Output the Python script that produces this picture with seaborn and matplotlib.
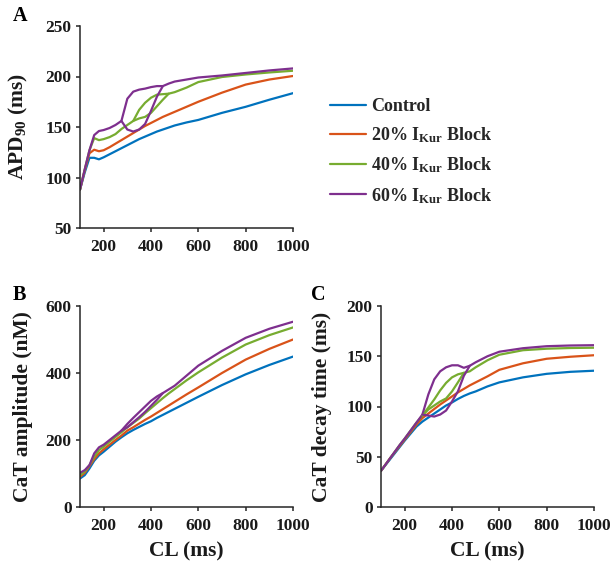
import matplotlib
matplotlib.use('Agg')
import matplotlib.pyplot as plt
import seaborn as sns

# ---------------- data ----------------
CL = [100, 120, 140, 160, 180, 200, 225, 250, 275, 300, 325, 350, 375, 400,
      425, 450, 475, 500, 550, 600, 700, 800, 900, 1000]
series_names = ["Control", "20% I$_{\\mathrm{Kur}}$ Block",
                "40% I$_{\\mathrm{Kur}}$ Block", "60% I$_{\\mathrm{Kur}}$ Block"]

# Panel A: APD90 (ms)
ctrl_A = [88, 105, 119.5, 119.5, 118, 120, 123, 126, 129, 132, 135, 138, 140.5, 143,
          145.5, 147.5, 149.5, 151.5, 154.5, 157, 164, 170, 177, 183.5]
b20_A = [88, 107, 124, 127.5, 126, 127, 130, 133.5, 137, 140.5, 144, 147.5, 151, 154,
         157, 160, 162.5, 165, 170, 175, 184, 192, 197, 200.5]
b40_A = [88, 108, 127, 139, 137, 138, 140, 143, 148, 152, 156, 167, 174, 179,
         182, 182.5, 183, 184.5, 189, 194.5, 199.5, 202, 204, 205.7]
b40_A_alt_cl = [325, 350, 375, 400, 425, 450, 475]
b40_A_alt = [156, 158.5, 160, 164, 170.5, 177, 183]
b60_A = [88, 108, 127, 142, 146, 147, 149, 152, 156, 178, 185, 187, 188, 189.5,
         190.5, 190.5, 193, 195, 197, 199, 201, 203.5, 206, 208]
b60_A_alt_cl = [275, 300, 325, 350, 375, 400, 425, 450]
b60_A_alt = [156, 147.5, 145.5, 147.5, 153, 166, 180, 190.5]

# Panel B: CaT amplitude (nM)
ctrl_B = [85, 95, 115, 138, 154, 165, 180, 195, 208, 220, 230, 239, 248, 256,
          266, 275, 284, 293, 311, 329, 364, 396, 424, 449]
b20_B = [90, 102, 122, 143, 160, 172, 186, 200, 213, 228, 238, 249, 260, 270,
         281, 292, 303, 314, 336, 357, 400, 440, 472, 500]
b40_B = [95, 106, 125, 150, 170, 180, 195, 209, 223, 238, 251, 264, 280, 295,
         310, 325, 339, 352, 378, 402, 446, 485, 513, 536]
b60_B = [102, 110, 125, 160, 178, 186, 200, 214, 228, 248, 266, 283, 300, 317,
         330, 340, 351, 362, 392, 422, 466, 505, 532, 553]
b60_B_alt_cl = [275, 300, 325, 350, 375, 400, 425, 450]
b60_B_alt = [228, 238, 253, 268, 284, 302, 320, 340]

# Panel C: CaT decay time (ms)
ctrl_C = [36, 42, 48, 54, 60, 66, 73, 80, 85, 89, 93, 97, 101, 104,
          107.5, 110.5, 113, 115, 120, 124, 129, 132.5, 134.5, 135.6]
b20_C = [36, 42.5, 49, 55, 61, 67, 74.5, 82, 88.5, 93, 97.5, 102, 106, 110,
         114, 117.5, 121, 124, 130, 136.5, 143, 147.5, 149.5, 151]
b40_C = [36, 42.5, 49, 55.5, 62, 68, 76, 84, 91, 99, 107, 116, 123.5, 129,
         132, 133.5, 135, 139, 146, 151.5, 156, 157.5, 158.2, 158.5]
b40_C_alt_cl = [275, 300, 325, 350, 375, 400, 425, 450]
b40_C_alt = [91, 97, 101, 105, 108, 115, 124, 133.5]
b60_C = [36, 42.5, 49, 55.5, 62, 68, 76, 84, 92, 112, 127, 135, 139, 141,
         141, 138.5, 140.5, 144, 150, 154.5, 158, 160, 160.7, 161]
b60_C_alt_cl = [275, 300, 325, 350, 375, 400, 425, 450, 475]
b60_C_alt = [92, 91, 90, 92, 96, 105, 115, 130.5, 140.5]

x_ticks = [200, 400, 600, 800, 1000]

# ---------------- style ----------------
sns.set_style('ticks')
plt.rcParams['font.family'] = ['Liberation Serif', 'DejaVu Serif']
plt.rcParams['font.weight'] = 'bold'
plt.rcParams['mathtext.fontset'] = 'custom'
plt.rcParams['mathtext.rm'] = 'Liberation Serif:bold'
plt.rcParams['mathtext.it'] = 'Liberation Serif:bold:italic'
plt.rcParams['mathtext.bf'] = 'Liberation Serif:bold'
plt.rcParams['mathtext.default'] = 'rm'

colors = ['#0072BD', '#D95319', '#77AC30', '#7E2F8E']
AX_COLOR = '#262626'
TXT = '#1a1a1a'
LW = 1.6

fig = plt.figure(figsize=(6.15, 5.69), dpi=100)
W, H = 615, 569


def add_ax(l, r, t, b):
    return fig.add_axes([l / W, 1 - b / H, (r - l) / W, (b - t) / H])


axA = add_ax(80, 293, 26, 228)
axB = add_ax(80, 293, 306, 507)
axC = add_ax(381, 594, 306, 507)


def draw(ax, mains, alts, ylim, yticks, ylabel, ylab_x, xlabel):
    for name, vals, c in zip(series_names, mains, colors):
        sns.lineplot(x=CL, y=vals, color=c, linewidth=LW, ax=ax, label=name,
                     sort=False, estimator=None)
    for idx, xs, ys in alts:
        sns.lineplot(x=xs, y=ys, color=colors[idx], linewidth=LW, ax=ax,
                     sort=False, estimator=None)
    ax.set_xlim(100, 1000)
    ax.set_ylim(*ylim)
    ax.set_xticks(x_ticks)
    ax.set_yticks(yticks)
    sns.despine(ax=ax)
    for s in ['left', 'bottom']:
        ax.spines[s].set_color(AX_COLOR)
        ax.spines[s].set_linewidth(1.1)
    ax.tick_params(axis='both', direction='out', length=3, width=1.1,
                   colors=AX_COLOR, labelsize=12.5, labelcolor=TXT)
    ax.tick_params(axis='x', pad=5)
    ax.tick_params(axis='y', pad=3)
    for lab in ax.get_xticklabels() + ax.get_yticklabels():
        lab.set_fontweight('bold')
    ax.set_ylabel(ylabel, fontsize=15.5, fontweight='bold', color=TXT)
    ax.yaxis.set_label_coords(ylab_x, 0.5)
    if xlabel:
        ax.set_xlabel(xlabel, fontsize=15.5, fontweight='bold', color=TXT)
        ax.xaxis.set_label_coords(0.5, -0.172)
    else:
        ax.set_xlabel('')
    if ax.get_legend() is not None:
        ax.get_legend().remove()


draw(axA, [ctrl_A, b20_A, b40_A, b60_A],
     [(2, b40_A_alt_cl, b40_A_alt), (3, b60_A_alt_cl, b60_A_alt)],
     (50, 250), [50, 100, 150, 200, 250], 'APD$_{90}$ (ms)', -0.235, None)
draw(axB, [ctrl_B, b20_B, b40_B, b60_B],
     [(3, b60_B_alt_cl, b60_B_alt)],
     (0, 600), [0, 200, 400, 600], 'CaT amplitude (nM)', -0.22, 'CL (ms)')
draw(axC, [ctrl_C, b20_C, b40_C, b60_C],
     [(2, b40_C_alt_cl, b40_C_alt), (3, b60_C_alt_cl, b60_C_alt)],
     (0, 200), [0, 50, 100, 150, 200], 'CaT decay time (ms)', -0.23, 'CL (ms)')

handles = axA.get_lines()[:4]
fig.legend(handles, series_names, loc='upper left',
           bbox_to_anchor=(330 / W, 1 - 98 / H), frameon=False,
           fontsize=13, handlelength=2.0, handletextpad=0.25,
           labelspacing=0.58, borderpad=0, borderaxespad=0)

for letter, x, y in [('A', 12.5, 20.7), ('B', 12.5, 300), ('C', 311.5, 300)]:
    fig.text(x / W, 1 - y / H, letter, fontsize=14.5, fontweight='bold',
             va='baseline', ha='left', color='black')

fig.savefig('out.png', dpi=100)
